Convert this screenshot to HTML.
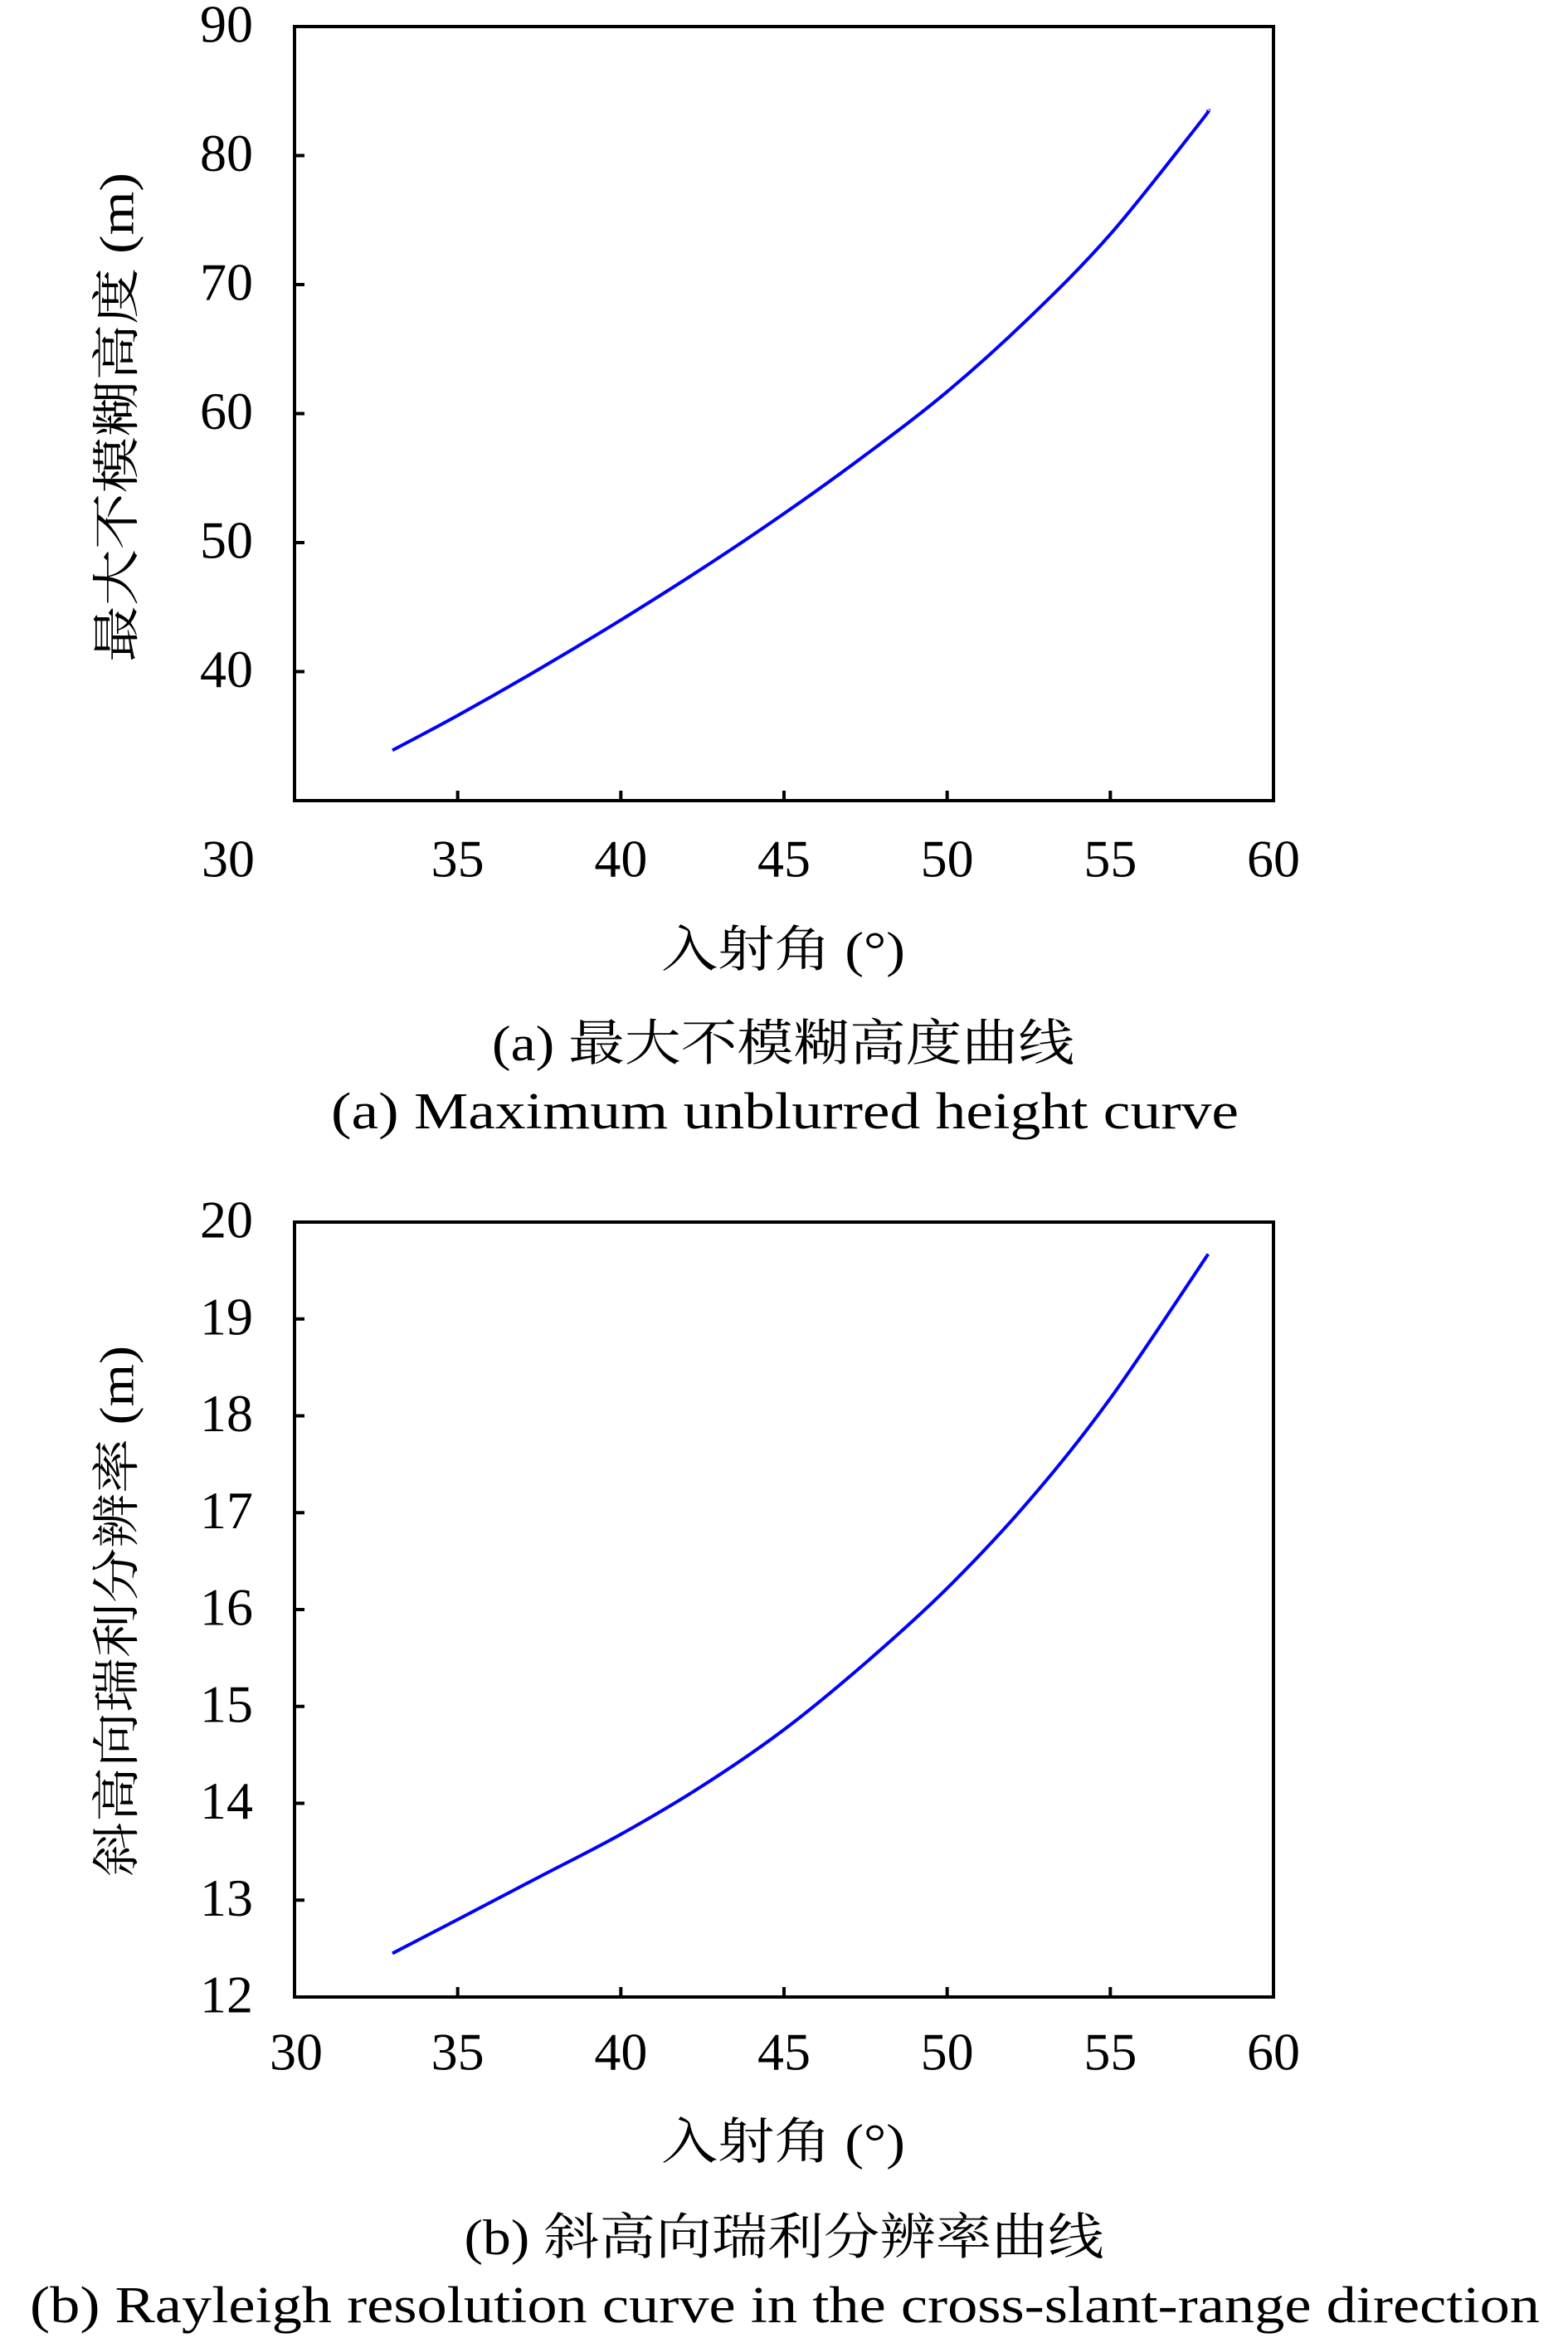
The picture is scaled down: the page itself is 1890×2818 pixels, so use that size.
<!DOCTYPE html>
<html><head><meta charset="utf-8"><style>
html,body{margin:0;padding:0;background:#fff;}
svg{display:block;}
text{font-family:"Liberation Serif","Noto Serif CJK SC","Noto Sans CJK SC",serif;fill:#000;}
</style></head><body>
<svg id="fig" width="1890" height="2818" viewBox="0 0 1890 2818" xmlns="http://www.w3.org/2000/svg">
<g id="chartA"></g>
<g id="chartB"></g>
<text x="147" y="503" font-size="58" text-anchor="middle" dominant-baseline="middle" transform="rotate(-90 147 503)" textLength="590" lengthAdjust="spacingAndGlyphs">最大不模糊高度 (m)</text>
<text x="944" y="1151" font-size="60" text-anchor="middle" dominant-baseline="middle" textLength="294" lengthAdjust="spacingAndGlyphs">入射角 (°)</text>
<text x="944" y="1264" font-size="60" text-anchor="middle" dominant-baseline="middle" textLength="702" lengthAdjust="spacingAndGlyphs">(a) 最大不模糊高度曲线</text>
<text x="946" y="1346" font-size="62" text-anchor="middle" dominant-baseline="middle" textLength="1094" lengthAdjust="spacingAndGlyphs">(a) Maximum unblurred height curve</text>
<text x="147" y="1942" font-size="58" text-anchor="middle" dominant-baseline="middle" transform="rotate(-90 147 1942)" textLength="640" lengthAdjust="spacingAndGlyphs">斜高向瑞利分辨率 (m)</text>
<text x="944" y="2588" font-size="60" text-anchor="middle" dominant-baseline="middle" textLength="294" lengthAdjust="spacingAndGlyphs">入射角 (°)</text>
<text x="945" y="2703" font-size="60" text-anchor="middle" dominant-baseline="middle" textLength="771" lengthAdjust="spacingAndGlyphs">(b) 斜高向瑞利分辨率曲线</text>
<text x="946" y="2785" font-size="62" text-anchor="middle" dominant-baseline="middle" textLength="1820" lengthAdjust="spacingAndGlyphs">(b) Rayleigh resolution curve in the cross-slant-range direction</text>
</svg>
<script>
const anglesA = [33, 35, 37.5, 40, 42.5, 45, 47.5, 50, 52.5, 55, 57.7, 58];
const heightA = [33.9, 36.6, 40.2, 44.0, 48.0, 52.25, 56.8, 61.7, 67.4, 73.9, 82.4, 83.5];
const xTicks = [30, 35, 40, 45, 50, 55, 60];
const yTicksA = [40, 50, 60, 70, 80, 90];
const anglesB = [33, 35, 37.5, 40, 42.5, 45, 47.5, 50, 52.5, 55, 58];
const resB = [12.45, 12.8, 13.24, 13.68, 14.18, 14.76, 15.45, 16.22, 17.12, 18.18, 19.67];
const yTicksB = [12, 13, 14, 15, 16, 17, 18, 19, 20];
const NS = "http://www.w3.org/2000/svg";

function mk(parent, tag, attrs) {
  const e = document.createElementNS(NS, tag);
  for (const k in attrs) e.setAttribute(k, attrs[k]);
  parent.appendChild(e);
  return e;
}

function drawChart(g, cfg) {
  const sx = v => cfg.left + (v - cfg.xmin) / (cfg.xmax - cfg.xmin) * (cfg.right - cfg.left);
  const sy = v => cfg.bottom - (v - cfg.ymin) / (cfg.ymax - cfg.ymin) * (cfg.bottom - cfg.top);
  const frame = mk(g, 'rect', {x: cfg.left, y: cfg.top, width: cfg.right - cfg.left, height: cfg.bottom - cfg.top, fill: 'none', stroke: '#000', 'stroke-width': 4});
  
  
  cfg.xt.forEach(v => {
    const x = sx(v);
    if (v > cfg.xmin && v < cfg.xmax) {
      const t = mk(g, 'line', {x1: x, x2: x, y1: cfg.bottom, y2: cfg.bottom - 12, stroke: '#000', 'stroke-width': 4});
      
      
    }
    const lx = (v === cfg.xmin) ? cfg.firstLabelX : x;
    const lb = mk(g, 'text', {x: lx, y: cfg.xLabelY, 'font-size': 64, 'text-anchor': 'middle', 'dominant-baseline': 'middle'});
    lb.textContent = v;
    
    
  });
  cfg.yt.forEach(v => {
    const y = sy(v);
    if (v > cfg.ymin && v < cfg.ymax) {
      const t = mk(g, 'line', {x1: cfg.left, x2: cfg.left + 12, y1: y, y2: y, stroke: '#000', 'stroke-width': 4});
      
      
    }
    const lb = mk(g, 'text', {x: 305, y: y + 4, 'font-size': 64, 'text-anchor': 'end', 'dominant-baseline': 'middle'});
    lb.textContent = v;
    
    
  });
  const pts = cfg.xs.map((v, i) => [sx(v), sy(cfg.ys[i])]);
  let d = 'M' + pts[0][0] + ',' + pts[0][1];
  for (let i = 0; i < pts.length - 1; i++) {
    const p0 = pts[Math.max(0, i - 1)], p1 = pts[i], p2 = pts[i + 1], p3 = pts[Math.min(pts.length - 1, i + 2)];
    const c1 = [p1[0] + (p2[0] - p0[0]) / 6, p1[1] + (p2[1] - p0[1]) / 6];
    const c2 = [p2[0] - (p3[0] - p1[0]) / 6, p2[1] - (p3[1] - p1[1]) / 6];
    d += ' C' + c1[0] + ',' + c1[1] + ' ' + c2[0] + ',' + c2[1] + ' ' + p2[0] + ',' + p2[1];
  }
  const line = mk(g, 'path', {d: d, fill: 'none', stroke: '#0000ff', 'stroke-width': 4});
  
  
}

drawChart(document.getElementById('chartA'), {
  left: 355, right: 1535, top: 32, bottom: 965,
  xmin: 30, xmax: 60, ymin: 30, ymax: 90,
  xt: xTicks, yt: yTicksA, xs: anglesA, ys: heightA,
  xLabelY: 1042, firstLabelX: 275, lineName: 'height-curve'
});
drawChart(document.getElementById('chartB'), {
  left: 355, right: 1535, top: 1473, bottom: 2407,
  xmin: 30, xmax: 60, ymin: 12, ymax: 20,
  xt: xTicks, yt: yTicksB, xs: anglesB, ys: resB,
  xLabelY: 2480, firstLabelX: 357, lineName: 'resolution-curve'
});
</script>
</body></html>
